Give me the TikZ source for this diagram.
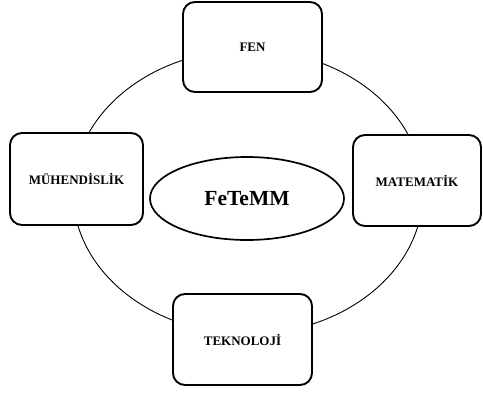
\documentclass[tikz,border=0pt]{standalone}
\usepackage{fontspec}
\setmainfont{Liberation Serif}
\usetikzlibrary{shapes.geometric}
\begin{document}
\begin{tikzpicture}[x=1pt,y=-1pt,
  box/.style={draw, line width=1.9pt, rounded corners=12pt, fill=white, inner sep=0pt,
    font=\fontsize{13}{15}\selectfont\bfseries},
  ring/.style={draw, line width=0.9pt, ellipse, inner sep=0pt},
  hub/.style={draw, line width=1.7pt, ellipse, inner sep=0pt, fill=white,
    font=\fontsize{21.5}{24}\selectfont\bfseries}]
\useasboundingbox (0,0) rectangle (483,392);
\node[ring, minimum width=350pt, minimum height=284pt] (ring) at (248,192) {};
\node[box, minimum width=139pt, minimum height=90pt] (fen) at (252.5,47) {FEN};
\node[box, minimum width=133pt, minimum height=92pt] (muh) at (76.5,179) {MÜHENDİSLİK};
\node[box, minimum width=128pt, minimum height=91pt] (mat) at (417,180.5) {MATEMATİK};
\node[box, minimum width=139pt, minimum height=91pt] (tek) at (242.5,339.5) {TEKNOLOJİ};
\node[hub, minimum width=194pt, minimum height=83pt] (hub) at (247,198.5) {FeTeMM};
\end{tikzpicture}
\end{document}
